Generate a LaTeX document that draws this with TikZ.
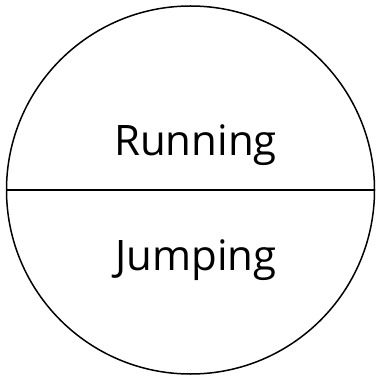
\documentclass[tikz,border=0pt]{standalone}
\usepackage{fontspec}
\setmainfont{Open Sans}
\begin{document}
\begin{tikzpicture}[x=1pt, y=-1pt, line width=1.5pt,
  etiket/.style={font=\fontsize{42}{44}\selectfont, inner sep=0pt, anchor=base}]
  % --- kenar boslugu ---
  \useasboundingbox (0,0) rectangle (375,379);
  \def\R{184} % yaricap

  % ---- daire ve ortadaki cizgi ----
  \coordinate (merkez) at (190.5,190);
  \draw (merkez) circle (\R);
  \coordinate (sol) at (6.5,190);
  \coordinate (sag) at (374.5,190);
  \draw (sol) -- (sag);

  % ---- yazilar ----
  \node[etiket] (kosma) at (195.5,156) {Running};
  \node[etiket] (atlama) at (196,270) {Jumping};
\end{tikzpicture}
\end{document}
